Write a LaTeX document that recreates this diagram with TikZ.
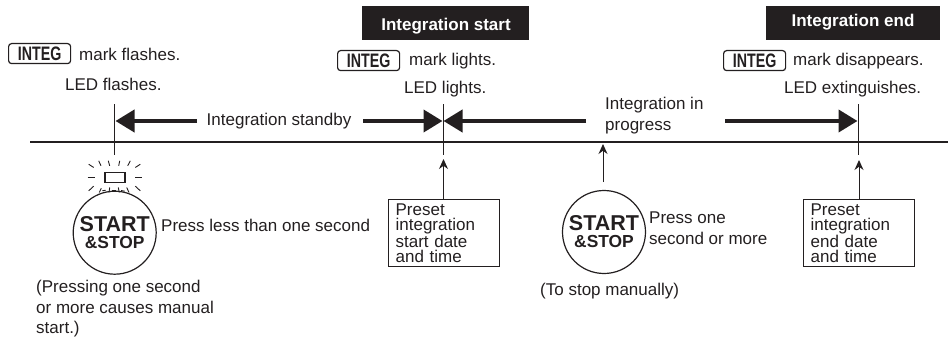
\documentclass[tikz,border=0pt]{standalone}
\usepackage{fontspec}
\setmainfont{Liberation Sans}
\newfontfamily\integfont[FakeStretch=0.73]{Liberation Sans}
\usetikzlibrary{arrows.meta,positioning}

\definecolor{ink}{HTML}{231F20}
\tikzstyle{txt} = [inner sep=0pt, anchor=base west, text=ink, font=\fontsize{17}{20.5}\selectfont]
\tikzstyle{banner} = [fill=ink, inner sep=0pt, minimum width=167pt, minimum height=34pt, anchor=north west]
\tikzstyle{bannertext} = [inner sep=0pt, anchor=base, text=white, font=\fontsize{17}{21}\selectfont\bfseries]
\tikzstyle{integmark} = [draw=ink, line width=1.2pt, rounded corners=3pt, minimum width=62pt, minimum height=20pt, inner sep=0pt, anchor=north west, text=ink, font=\fontsize{19.5}{21}\integfont\bfseries]
\tikzstyle{preset} = [draw=ink, line width=1.2pt, anchor=north west, inner sep=0pt, minimum width=111pt, minimum height=67pt, text width=97pt, align=left, text=ink, font=\fontsize{17}{15}\selectfont]
\tikzstyle{button} = [circle, draw=ink, line width=1.2pt, minimum size=83pt, inner sep=0pt, align=center, text=ink, font=\fontsize{17}{17}\selectfont]
\tikzstyle{bigarrow} = [draw=ink, line width=4pt, -{Triangle[length=19pt,width=22pt]}]
\tikzstyle{smallarrow} = [draw=ink, line width=1pt, -{Stealth[length=10pt,width=9pt]}]
\tikzstyle{tickline} = [draw=ink, line width=1pt]
\newcommand{\startstop}{{\fontsize{21.5}{18}\selectfont\bfseries START}\\{\fontsize{17.4}{14}\selectfont\bfseries \&STOP}}

\begin{document}
\begin{tikzpicture}[x=1pt,y=-1pt]
	\useasboundingbox (0,0) rectangle (948,337);
	
	\def \linetop {104}
	\def \linelow {155}
	\def \arrowy {121}
	
	%time line
	\coordinate (lineL) at (30,142);
	\coordinate (lineR) at (948,142);
	\draw [draw=ink, line width=1.3pt] (lineL) -- (lineR);
	
	%ticks
	\coordinate (flashtop) at (114.5,\linetop);
	\coordinate (flashlow) at (114.5,\linelow);
	\coordinate (starttop) at (443,\linetop);
	\coordinate (startlow) at (443,\linelow);
	\coordinate (endtop) at (858.5,\linetop);
	\coordinate (endlow) at (858.5,\linelow);
	\draw [tickline] (flashtop) -- (flashlow);
	\draw [tickline] (starttop) -- (startlow);
	\draw [tickline] (endtop) -- (endlow);
	
	%banners
	\node (start banner) [banner] at (362,6) {};
	\node (end banner) [banner, minimum width=174pt] at (766,6) {};
	\node (start title) [bannertext] at (446,31) {Integration start};
	\node (end title) [bannertext] at (853,27) {Integration end};
	
	%marks
	\node (mark flash) [integmark] at (8,43) {INTEG};
	\node (mark start) [integmark] at (337,50) {INTEG};
	\node (mark end) [integmark] at (723,50) {INTEG};
	\node (flash text) [txt] at (79,61) {mark flashes.};
	\node (start text) [txt] at (409,65.5) {mark lights.};
	\node (end text) [txt] at (793,65.5) {mark disappears.};
	\node (led flash) [txt] at (65,91) {LED flashes.};
	\node (led start) [txt] at (404,93) {LED lights.};
	\node (led end) [txt] at (784,93) {LED extinguishes.};
	
	%periods
	\node (standby) [txt] at (206.5,125) {Integration standby};
	\node (progress) [txt, align=left, anchor=north west] at (605,97) {Integration in\\progress};
	\coordinate (standby tail) at (197,\arrowy);
	\coordinate (standby head) at (115.5,\arrowy);
	\coordinate (wait tail) at (363,\arrowy);
	\coordinate (wait head) at (442.5,\arrowy);
	\coordinate (run tail) at (586,\arrowy);
	\coordinate (run head) at (443.5,\arrowy);
	\coordinate (done tail) at (725,\arrowy);
	\coordinate (done head) at (857.5,\arrowy);
	\draw [bigarrow] (standby tail) -- (standby head);
	\draw [bigarrow] (wait tail) -- (wait head);
	\draw [bigarrow] (run tail) -- (run head);
	\draw [bigarrow] (done tail) -- (done head);
	
	%left button
	\node (lamp) [draw=ink, line width=1.2pt, minimum width=20pt, minimum height=10pt, inner sep=0pt] at (115,177.5) {};
	\foreach \a/\b/\c/\d in {-26.3/-13.3/-21.3/-10, -16.3/-16.7/-14/-11.7, -6.7/-16.7/-5.3/-11.7, 4.7/-16.7/3.7/-11.7, 15.3/-16.7/12.7/-11.7, 25.3/-13.3/20.3/-10, -27.3/0/-19.7/0, 20.3/0/27/0, -26.3/13.3/-21.3/8.7, 25.3/13.3/20.3/8.7, -15.7/15/-13.7/10.7, -6/15/-5.3/10, 4.3/15/3.3/10, 14/15/11.7/10, -12.7/13.3/-9.3/12.7, -3.3/13/0.7/13, 6/13/9.7/13.7}
		\draw [draw=ink, line width=0.9pt] ([shift={(\a,\b)}]lamp.center) -- ([shift={(\c,\d)}]lamp.center);
	\node (start button) [button] at (114.7,232.7) {\startstop};
	\node (press less) [txt] at (161,231) {Press less than one second};
	\node (manual note) [txt, align=left, anchor=north west] at (36,280) {(Pressing one second\\or more causes manual\\start.)};
	
	%first preset
	\node (start preset) [preset] at (388,199) {Preset\\integration\\start date\\and time};
	\coordinate (start tip) at (443.5,159);
	\draw [smallarrow] (start preset.north -| start tip) -- (start tip);
	
	%middle button
	\node (stop button) [button] at (604,232) {\startstop};
	\coordinate (stop tail) at (603,182);
	\coordinate (stop tip) at (603,144);
	\draw [smallarrow] (stop tail) -- (stop tip);
	\node (press more) [txt, align=left, anchor=north west] at (649,212) {Press one\\second or more};
	\node (stop note) [txt] at (540,295) {(To stop manually)};
	
	%second preset
	\node (end preset) [preset] at (803,199) {Preset\\integration\\end date\\and time};
	\coordinate (end tip) at (859,160);
	\draw [smallarrow] (end preset.north -| end tip) -- (end tip);
	
\end{tikzpicture}
\end{document}
